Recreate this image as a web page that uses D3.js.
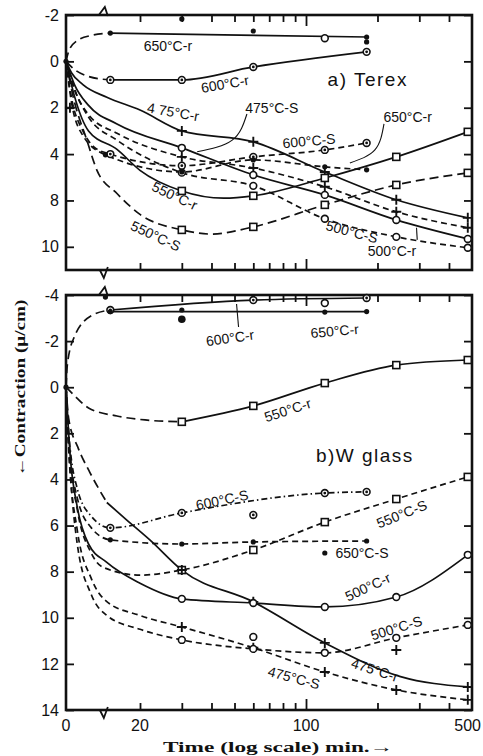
<!DOCTYPE html>
<html>
<head>
<meta charset="utf-8">
<script src="https://cdn.jsdelivr.net/npm/d3@7"></script>
<style>
body{margin:0;background:#fff;}
</style>
</head>
<body>
<script>
// ---- axis values / labels ----
var xTicks = [20,30,40,50,60,70,80,90,100,200,300,400];
var xTickLabels = [[0,"0"],[20,"20"],[100,"100"],[500,"500"]];
var yTicksA = [-2,0,2,4,6,8];
var yLabelsA = ["-2","0","2","4","8","10"];   // printed like this in the original
var yTicksB = [-4,-2,0,2,4,6,8,10,12,14];
var yLabelsB = ["-4","-2","0","2","4","6","8","10","12","14"];
var measured = [14,15,30,60,120,180,240,480];   // times (min) that carry a symbol

// ---- a) Terex : [time min, contraction] ----
var a650r_lead = [[0,0],[1,-0.45],[4,-0.9],[9,-1.12],[15,-1.22]];
var a650r = [[15,-1.22],[180,-1.05]];
var a600r_lead = [[0,0],[3,0.35],[8,0.65],[15,0.8]];
var a600r = [[15,0.8],[30,0.8],[60,0.24],[180,-0.41]];
var a475r = [[0,0],[2,0.5],[6,1.0],[14.5,1.55],[20,2.1],[30,3.0],[60,3.47],[120,4.77],[240,5.97],[480,6.75]];
var a475s = [[0,0],[3,1.2],[8,2.3],[16,3.1],[30,4.12],[60,4.6],[120,5.41],[240,6.49],[480,7.18]];
var a550r = [[0,0],[3,1.5],[8,3.0],[16,3.8],[20,4.7],[30,5.59],[45,5.9],[60,5.8],[120,5.03],[240,4.12],[480,3.04]];
var a550s = [[0,0],[2.5,1.5],[7.4,3.4],[11,4.7],[16,5.7],[20,6.6],[30,7.27],[40,7.45],[60,7.14],[120,6.19],[240,5.33],[480,4.81]];
var a500r = [[0,0],[3,1.0],[8,1.9],[16,2.7],[30,3.73],[60,4.9],[120,5.76],[240,6.84],[480,7.66]];
var a500s = [[0,0],[3,1.2],[8,2.4],[16,3.4],[30,4.8],[60,5.37],[120,6.79],[240,7.57],[480,8.04]];
var a600s = [[0,0],[2,1.6],[6,3.0],[10,3.7],[15,4.0],[30,4.5],[60,4.12],[120,3.82],[180,3.52]];
var a650s = [[0,0],[2,1.8],[6,3.2],[14,4.03],[30,4.77],[60,4.25],[120,4.55],[180,4.68]];
var aDots = [[0,0],[30,-1.83],[60,-1.31],[180,-0.84]];
var aCircs = [[120,-1.0]];
var aPlus = [[1.4,2.0]];

// ---- b) W glass ----
var b600r_lead = [[0,0],[0.5,-1.0],[3,-2.2],[9,-3.1],[15,-3.35]];
var b600r = [[15,-3.35],[60,-3.78],[180,-3.87]];
var b650r = [[15,-3.28],[180,-3.28]];
var b550r_lead = [[0,0],[2.5,0.3],[8,0.9],[16,1.25],[21,1.42],[30,1.5]];
var b550r = [[30,1.5],[60,0.81],[120,-0.18],[240,-0.96],[480,-1.18]];
var b600s = [[0,0],[1,2.0],[4,4.4],[9,5.6],[15,6.1],[30,5.45],[120,4.59],[180,4.54]];
var b650s = [[0,0],[1,2.2],[4,4.8],[9,6.1],[15,6.62],[30,6.8],[60,6.71],[180,6.67]];
var b550s = [[0,0],[1,2.5],[4,5.3],[9,7.2],[13,7.8],[20,8.15],[30,7.93],[60,7.06],[120,5.85],[240,4.85],[480,3.89]];
var b475r_lead = [[0,0],[1,1.4],[4.2,2.6],[8.5,3.7],[14.5,5.0]];
var b475r = [[14.5,5.0],[17.6,5.76],[22,6.62],[30,7.93],[60,9.31],[120,11.09],[250,12.55],[480,13.0]];
var b500r = [[0,0],[1.5,3.0],[4,5.2],[8,6.8],[14.5,7.6],[20,8.5],[30,9.18],[60,9.36],[120,9.53],[240,9.1],[480,7.27]];
var b475s = [[0,0],[1,2.8],[4,6.2],[9,8.3],[14.5,9.3],[20,9.9],[30,10.4],[60,11.3],[120,12.35],[240,13.13],[480,13.56]];
var b500s = [[0,0],[1,2.6],[4,6.8],[9,9.0],[14.5,9.9],[20,10.5],[30,10.96],[60,11.35],[120,11.52],[240,10.87],[480,10.31]];
var bDots = [[0,0],[14,-3.91],[30,-3.35],[120,-3.26],[120,7.19]];
var bBigDots = [[30,-2.95]];
var bCircs = [[120,-3.65],[60,10.83]];
var bCircDots = [[60,5.54]];
var bPlus = [[240,11.4]];

// ---- scales ----
var W = 483, H = 756;
var tBreak = 14.5;
var xLog = d3.scaleLog().domain([20,500]).range([140,472]);
var xLin = d3.scaleLinear().domain([0,tBreak]).range([66, xLog(tBreak)]);
function X(t){ return t < tBreak ? xLin(t) : xLog(t); }

var yA = d3.scaleLinear().domain([-2,9]).range([15,270]);
var yB = d3.scaleLinear().domain([-4,14]).range([295,710]);

var ink = "#111";
var svg = d3.select("body").append("svg")
  .attr("width",W).attr("height",H)
  .style("font-family","'Liberation Sans', Arial, sans-serif");

function drawMark(g, type, x, y){
  if(type=="dot"){
    g.append("circle").attr("cx",x).attr("cy",y).attr("r",2.6).attr("fill",ink);
  } else if(type=="bigdot"){
    g.append("circle").attr("cx",x).attr("cy",y).attr("r",3.8).attr("fill",ink);
  } else if(type=="circ" || type=="circdot"){
    g.append("circle").attr("cx",x).attr("cy",y).attr("r",3.4)
      .attr("fill","#fff").attr("stroke",ink).attr("stroke-width",1.6);
    if(type=="circdot") g.append("circle").attr("cx",x).attr("cy",y).attr("r",1.4).attr("fill",ink);
  } else if(type=="sq"){
    g.append("rect").attr("x",x-3.5).attr("y",y-3.5).attr("width",7).attr("height",7)
      .attr("fill","#fff").attr("stroke",ink).attr("stroke-width",1.6);
  } else if(type=="plus"){
    g.append("path").attr("d","M"+(x-5)+","+y+"H"+(x+5)+"M"+x+","+(y-5)+"V"+(y+5))
      .attr("stroke",ink).attr("stroke-width",1.9);
  }
}

function panel(y, yTicks, yLabels, series, extras, labels, leaders){
  var g = svg.append("g");
  var top = y.range()[0], bot = y.range()[1];

  // ticks on all four sides (inward)
  var ax;
  ax = g.append("g").attr("transform","translate(0,"+bot+")")
    .call(d3.axisBottom(xLog).tickValues(xTicks).tickSize(-7).tickFormat(""));
  ax.selectAll(".tick").filter(function(d){return d==100;}).select("line").attr("y2",-11);
  ax = g.append("g").attr("transform","translate(0,"+top+")")
    .call(d3.axisTop(xLog).tickValues(xTicks).tickSize(-7).tickFormat(""));
  ax.selectAll(".tick").filter(function(d){return d==100;}).select("line").attr("y2",11);
  g.append("g").attr("transform","translate(66,0)")
    .call(d3.axisLeft(y).tickValues(yTicks).tickSize(-8).tickPadding(7)
      .tickFormat(function(d,i){return yLabels[i];}));
  g.append("g").attr("transform","translate(472,0)")
    .call(d3.axisRight(y).tickValues(yTicks).tickSize(-8).tickFormat(""));
  g.selectAll(".domain").remove();
  g.selectAll(".tick line").attr("stroke",ink).attr("stroke-width",1.8);
  g.selectAll(".tick text").attr("fill",ink).attr("font-size",16)
    .attr("font-family","'Liberation Sans', Arial, sans-serif");

  // frame with axis breaks
  var xb = xLin(tBreak);
  g.append("rect").attr("x",66).attr("y",top).attr("width",472-66).attr("height",bot-top)
    .attr("fill","none").attr("stroke",ink).attr("stroke-width",2.6);
  g.append("path").attr("d","M"+(xb-8)+","+top+"L"+(xb-2)+","+(top-8)+"L"+(xb+1)+","+(top+1))
    .attr("fill","none").attr("stroke",ink).attr("stroke-width",1.8);
  g.append("path").attr("d","M"+(xb-7)+","+bot+"L"+(xb-3)+","+(bot+8)+"L"+(xb+1)+","+(bot-3))
    .attr("fill","none").attr("stroke",ink).attr("stroke-width",1.8);

  // curves
  var line = d3.line().x(function(d){return X(d[0]);}).y(function(d){return y(d[1]);})
    .curve(d3.curveMonotoneX);
  for(var i=0;i<series.length;i++){
    var s = series[i];
    g.append("path").attr("d",line(s.pts)).attr("fill","none")
      .attr("stroke",ink).attr("stroke-width",1.7)
      .attr("stroke-dasharray",s.dash || null);
  }
  for(i=0;i<series.length;i++){
    s = series[i];
    if(!s.mark) continue;
    for(var j=0;j<s.pts.length;j++){
      if(measured.indexOf(s.pts[j][0])<0) continue;
      drawMark(g, s.mark, X(s.pts[j][0]), y(s.pts[j][1]));
    }
  }
  for(i=0;i<extras.length;i++){
    for(j=0;j<extras[i].pts.length;j++)
      drawMark(g, extras[i].mark, X(extras[i].pts[j][0]), y(extras[i].pts[j][1]));
  }

  // leader lines
  var lead = d3.line().x(function(d){return X(d[0]);}).y(function(d){return y(d[1]);})
    .curve(d3.curveNatural);
  for(i=0;i<leaders.length;i++){
    g.append("path").attr("d",lead(leaders[i])).attr("fill","none")
      .attr("stroke",ink).attr("stroke-width",1.1);
  }

  // curve labels
  for(i=0;i<labels.length;i++){
    var L = labels[i];
    g.append("text")
      .attr("transform","translate("+X(L.t)+","+y(L.v)+") rotate("+(L.rot||0)+")")
      .attr("text-anchor","middle").attr("dominant-baseline","central")
      .attr("font-size",L.size||14).attr("letter-spacing",L.size?1.5:0)
      .attr("fill",ink).text(L.text);
  }
}

var longDash = "9,5", dash = "6,4";

panel(yA, yTicksA, yLabelsA,
  [ {pts:a650r_lead, dash:longDash},
    {pts:a650r, mark:"dot"},
    {pts:a600r_lead, dash:longDash},
    {pts:a600r, mark:"circdot"},
    {pts:a475r, mark:"plus"},
    {pts:a475s, dash:dash, mark:"plus"},
    {pts:a550r, mark:"sq"},
    {pts:a550s, dash:longDash, mark:"sq"},
    {pts:a500r, mark:"circ"},
    {pts:a500s, dash:dash, mark:"circ"},
    {pts:a600s, dash:dash, mark:"circdot"},
    {pts:a650s, dash:dash, mark:"dot"} ],
  [ {pts:aDots, mark:"dot"}, {pts:aCircs, mark:"circ"}, {pts:aPlus, mark:"plus"} ],
  [ {text:"650°C-r", t:26.2, v:-0.66},
    {text:"600°C-r", t:45.6, v:0.97, rot:-10},
    {text:"a) Terex", t:182, v:0.8, size:19},
    {text:"4 75°C-r", t:27.6, v:2.18, rot:10},
    {text:"475°C-S", t:71.8, v:2.0},
    {text:"650°C-r", t:268, v:2.4},
    {text:"600°C-S", t:103, v:3.43, rot:-5},
    {text:"550°C-r", t:28, v:5.8, rot:25},
    {text:"550°C-S", t:23.3, v:7.53, rot:25},
    {text:"500°C-S", t:156, v:7.35, rot:15},
    {text:"500°C-r", t:230, v:8.2} ],
  [ [[56.4,2.27],[48.9,3.4],[34.8,3.9]],
    [[213,2.7],[195,3.82],[153,4.38]],
    [[294,7.7],[292,7.18]] ]);

panel(yB, yTicksB, yLabelsB,
  [ {pts:b600r_lead, dash:longDash},
    {pts:b600r, mark:"circdot"},
    {pts:b650r, mark:"dot"},
    {pts:b550r_lead, dash:longDash},
    {pts:b550r, mark:"sq"},
    {pts:b600s, dash:"6,3,1.5,3", mark:"circdot"},
    {pts:b650s, dash:dash, mark:"dot"},
    {pts:b550s, dash:dash, mark:"sq"},
    {pts:b475r_lead, dash:longDash},
    {pts:b475r, mark:"plus"},
    {pts:b500r, mark:"circ"},
    {pts:b475s, dash:dash, mark:"plus"},
    {pts:b500s, dash:dash, mark:"circ"} ],
  [ {pts:bDots, mark:"dot"}, {pts:bBigDots, mark:"bigdot"}, {pts:bCircs, mark:"circ"},
    {pts:bCircDots, mark:"circdot"}, {pts:bPlus, mark:"plus"} ],
  [ {text:"600°C-r", t:47.9, v:-2.14, rot:-8},
    {text:"650°C-r", t:132, v:-2.44, rot:-5},
    {text:"550°C-r", t:83.7, v:0.99, rot:-18},
    {text:"b)W glass", t:177, v:2.94, size:19},
    {text:"600°C-S", t:44.3, v:4.89, rot:-12},
    {text:"550°C-S", t:253, v:5.5, rot:-22},
    {text:"650°C-S", t:172, v:7.19},
    {text:"500°C-r", t:182, v:8.66, rot:-25},
    {text:"500°C-S", t:240, v:10.44, rot:-17},
    {text:"475°C-r", t:195, v:12.26, rot:18},
    {text:"475°C-S", t:89, v:12.6, rot:15} ],
  [ [[52,-2.61],[51,-3.61]] ]);

// time labels under the lower panel (last one kept inside the window)
svg.selectAll("text.xl").data(xTickLabels).enter().append("text")
  .attr("class","xl").attr("x",function(d,i){return i==xTickLabels.length-1 ? W-2 : X(d[0]);})
  .attr("y",731)
  .attr("text-anchor",function(d,i){return i==xTickLabels.length-1 ? "end" : "middle";})
  .attr("font-size",16).attr("fill",ink)
  .text(function(d){return d[1];});

svg.append("text").attr("x",278).attr("y",752).attr("text-anchor","middle")
  .attr("font-family","'Liberation Serif', 'Times New Roman', serif")
  .attr("font-weight","bold").attr("font-size",15).attr("fill",ink)
  .attr("textLength",230).attr("lengthAdjust","spacingAndGlyphs")
  .text("Time (log scale) min.→");

svg.append("text").attr("transform","translate(25,388) rotate(-90)")
  .attr("text-anchor","middle")
  .attr("font-family","'Liberation Serif', 'Times New Roman', serif")
  .attr("font-weight","bold").attr("font-size",15).attr("fill",ink)
  .attr("textLength",177).attr("lengthAdjust","spacingAndGlyphs")
  .text("←Contraction (μ/cm)");
</script>
</body>
</html>
